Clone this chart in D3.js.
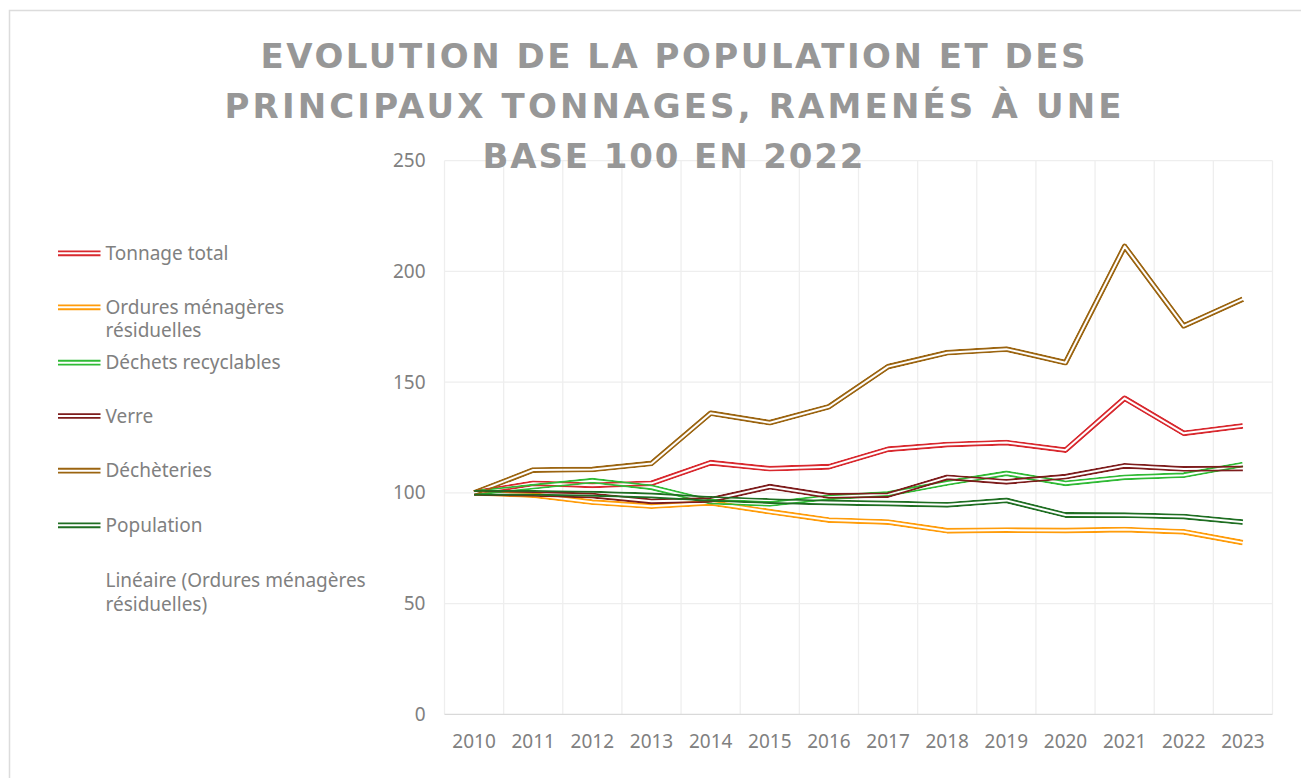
<!DOCTYPE html>
<html>
<head>
<meta charset="utf-8">
<script src="https://cdn.jsdelivr.net/npm/d3@7"></script>
<style>
  html, body { margin: 0; padding: 0; background: #ffffff; }
  svg { display: block; }
</style>
</head>
<body>
<div id="chart"></div>
<script>
// ---------- DATA ----------
const years = ["2010","2011","2012","2013","2014","2015","2016","2017","2018","2019","2020","2021","2022","2023"];
const tonnageTotal       = [100, 104.3, 103.4, 104.3, 113.6, 110.9, 111.8, 119.7, 121.8, 122.7, 119.3, 142.7, 126.9, 130.2];
const orduresMenageres   = [100,  99.0,  95.8,  94.0,  95.5,  91.5,  87.7,  86.8,  82.9,  83.2,  83.0,  83.4,  82.4,  77.5];
const dechetsRecyclables = [100, 102.8, 105.5, 102.5,  96.0,  95.0,  98.0,  99.5, 104.5, 108.8, 104.3, 107.0, 108.0, 112.8];
const verre              = [100,  99.5,  98.8,  96.2,  96.8, 102.8,  98.6,  99.0, 107.0, 105.0, 107.3, 112.2, 110.8, 111.0];
const decheteries        = [100, 110.3, 110.6, 113.3, 136.0, 131.7, 138.9, 157.0, 163.3, 164.9, 158.8, 211.3, 175.4, 187.5];
const population         = [100, 100.0,  99.6,  98.8,  97.3,  96.3,  95.6,  95.2,  94.6,  96.6,  90.0,  89.9,  89.3,  86.8];
const yTicks = [0, 50, 100, 150, 200, 250];
const seriesNames = ["Tonnage total", "Ordures ménagères résiduelles", "Déchets recyclables", "Verre", "Déchèteries", "Population"];
const seriesColors = ["#d8282e", "#ff9c0a", "#2fba35", "#7d1c1c", "#9b6410", "#1f6e22"];
const trendName = "Linéaire (Ordures ménagères résiduelles)";
const titleLines = ["EVOLUTION DE LA POPULATION ET DES", "PRINCIPAUX TONNAGES, RAMENÉS À UNE", "BASE 100 EN 2022"];

const seriesValues = [tonnageTotal, orduresMenageres, dechetsRecyclables, verre, decheteries, population];
const series = seriesNames.map((name, i) => ({ name, color: seriesColors[i], values: seriesValues[i] }));

// ---------- LAYOUT ----------
const W = 1301, H = 778;
const plot = { left: 444.5, right: 1272.5, top: 160.7, bottom: 714.3 };
const FONT = "'Noto Sans', 'DejaVu Sans', sans-serif";
const TITLE_FONT = "'DejaVu Sans', 'Noto Sans', sans-serif";
const TEXT_COLOR = "#808080";

const svg = d3.select("#chart").append("svg").attr("width", W).attr("height", H);

// frame
svg.append("rect").attr("x", 9.5).attr("y", 10.5).attr("width", W + 10).attr("height", H + 10)
  .attr("fill", "#ffffff").attr("stroke", "#dcdcdc").attr("stroke-width", 1.5);

const x = d3.scaleBand().domain(years).range([plot.left, plot.right]).paddingInner(0).paddingOuter(0);
const y = d3.scaleLinear().domain([0, 250]).range([plot.bottom, plot.top]);

// horizontal gridlines
svg.append("g").selectAll("line").data(yTicks.filter(d => d > 0)).join("line")
  .attr("x1", plot.left).attr("x2", plot.right)
  .attr("y1", d => y(d)).attr("y2", d => y(d))
  .attr("stroke", "#eeeeee").attr("stroke-width", 1.3);

// vertical gridlines at band boundaries
const bounds = years.map(d => x(d)).concat([x(years[years.length - 1]) + x.bandwidth()]);
svg.append("g").selectAll("line").data(bounds).join("line")
  .attr("x1", d => d).attr("x2", d => d)
  .attr("y1", plot.top).attr("y2", plot.bottom)
  .attr("stroke", "#eeeeee").attr("stroke-width", 1.3);

// x axis baseline
svg.append("line").attr("x1", plot.left).attr("x2", plot.right)
  .attr("y1", y(0)).attr("y2", y(0)).attr("stroke", "#d9d9d9").attr("stroke-width", 1.3);

// y axis labels
const yAxis = d3.axisLeft(y).tickValues(yTicks).tickSize(0).tickPadding(0).tickFormat(d3.format("d"));
const yg = svg.append("g").attr("transform", `translate(${plot.left - 19},0)`).call(yAxis);
yg.select(".domain").remove();
yg.selectAll("text").attr("font-family", FONT).attr("font-size", 19).attr("fill", TEXT_COLOR);

// x axis labels
const xAxis = d3.axisBottom(x).tickSize(0).tickPadding(0);
const xg = svg.append("g").attr("transform", `translate(0,${plot.bottom + 20})`).call(xAxis);
xg.select(".domain").remove();
xg.selectAll("text").attr("font-family", FONT).attr("font-size", 19).attr("fill", TEXT_COLOR);

// lines (double compound style via mask)
const line = d3.line()
  .x((d, i) => x(years[i]) + x.bandwidth() / 2)
  .y(d => y(d));

const defs = svg.append("defs");
const OUTER = 5.8, INNER = 2.0;
series.forEach((s, i) => {
  const dPath = line(s.values);
  const m = defs.append("mask").attr("id", "m" + i).attr("maskUnits", "userSpaceOnUse")
    .attr("x", 0).attr("y", 0).attr("width", W).attr("height", H);
  m.append("path").attr("d", dPath).attr("fill", "none").attr("stroke", "#fff")
    .attr("stroke-width", OUTER).attr("stroke-linejoin", "round").attr("stroke-linecap", "butt");
  m.append("path").attr("d", dPath).attr("fill", "none").attr("stroke", "#000")
    .attr("stroke-width", INNER).attr("stroke-linejoin", "round").attr("stroke-linecap", "square");
  svg.append("path").attr("d", dPath).attr("fill", "none").attr("stroke", s.color)
    .attr("stroke-width", OUTER).attr("stroke-linejoin", "round").attr("stroke-linecap", "butt")
    .attr("mask", `url(#m${i})`);
});

// legend
const legendRows = [253.3, 307.3, 362.7, 416, 470.7, 525.3];
const lg = svg.append("g");
series.forEach((s, i) => {
  const yy = legendRows[i];
  [-1.9, 1.9].forEach(off => {
    lg.append("line").attr("x1", 58).attr("x2", 100.5).attr("y1", yy + off).attr("y2", yy + off)
      .attr("stroke", s.color).attr("stroke-width", 1.9);
  });
  const t = lg.append("text").attr("x", 105.5).attr("y", yy + 6.5)
    .attr("font-family", FONT).attr("font-size", 19).attr("fill", TEXT_COLOR);
  if (s.name === "Ordures ménagères résiduelles") {
    t.append("tspan").attr("x", 105.5).text("Ordures ménagères");
    t.append("tspan").attr("x", 105.5).attr("dy", 23.5).text("résiduelles");
  } else {
    t.text(s.name);
  }
});
const tt = lg.append("text").attr("x", 105.5).attr("y", 580 + 6.5)
  .attr("font-family", FONT).attr("font-size", 19).attr("fill", TEXT_COLOR);
tt.append("tspan").attr("x", 105.5).text("Linéaire (Ordures ménagères");
tt.append("tspan").attr("x", 105.5).attr("dy", 24).text("résiduelles)");

// title
const titleWidths = [825, 897, 381];
const titleBase = [67.5, 118, 167.5];
titleLines.forEach((tx, i) => {
  svg.append("text").attr("x", 673).attr("y", titleBase[i])
    .attr("text-anchor", "middle")
    .attr("font-family", TITLE_FONT).attr("font-weight", "bold").attr("font-size", 34)
    .attr("fill", "#979797")
    .attr("textLength", titleWidths[i]).attr("lengthAdjust", "spacing")
    .text(tx);
});
</script>
</body>
</html>
